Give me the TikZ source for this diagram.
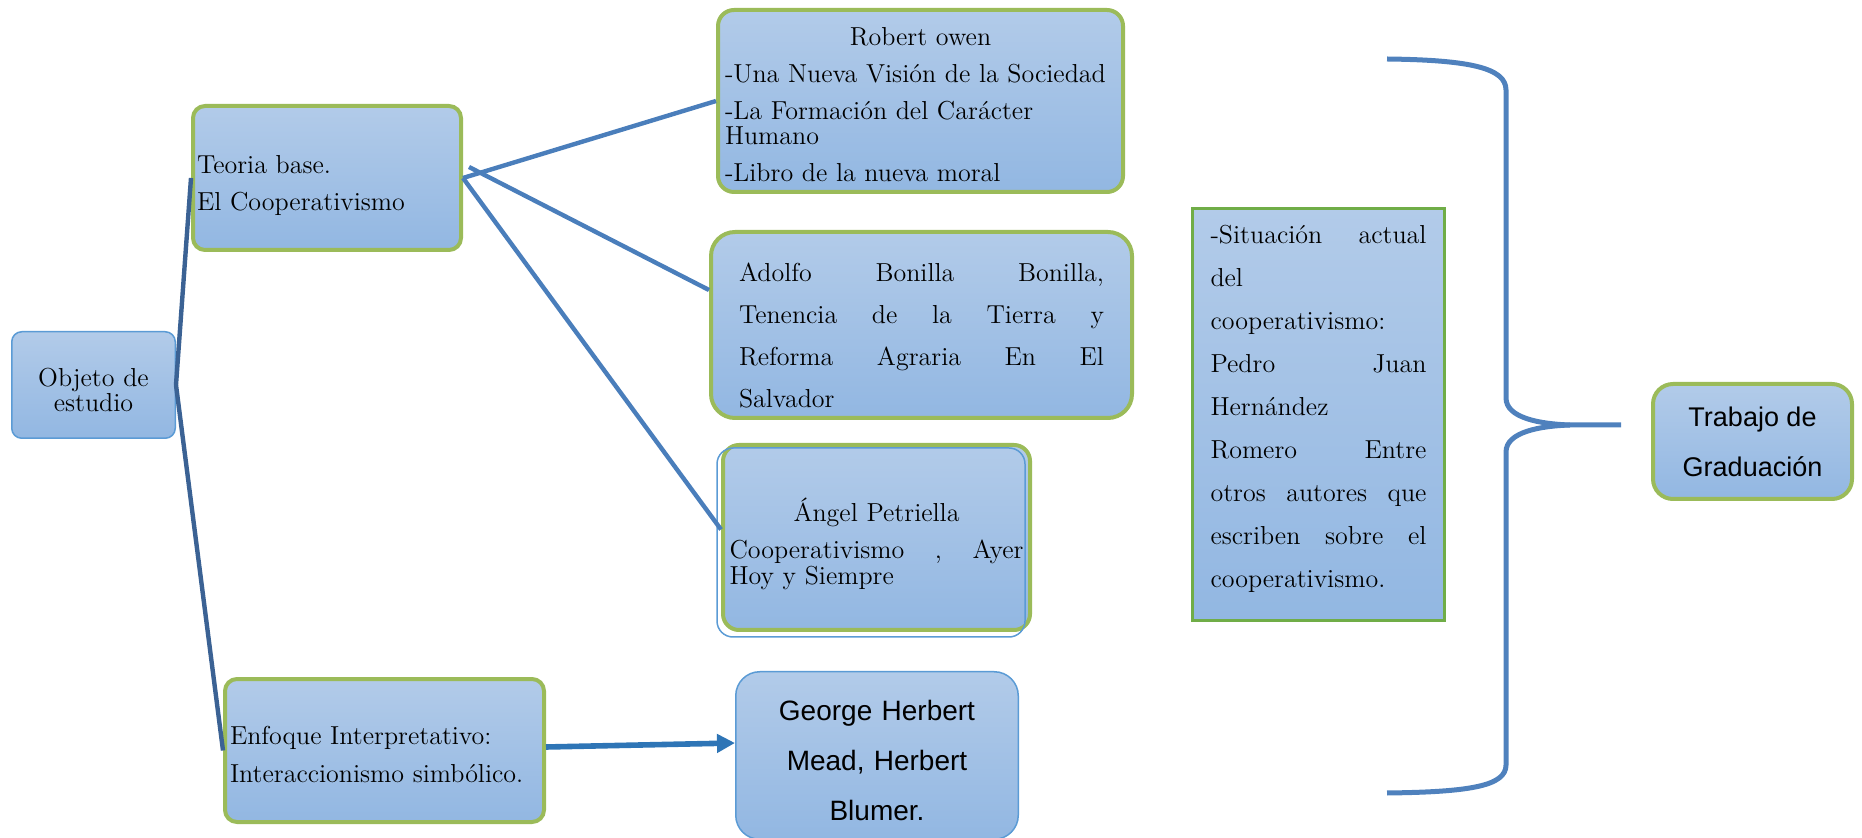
\documentclass[tikz,border=0pt]{standalone}
\usepackage{fontspec}
\setsansfont{Liberation Sans}
\usetikzlibrary{arrows.meta}
\definecolor{boxtop}{RGB}{178,203,233}
\definecolor{boxbot}{RGB}{146,183,226}
\definecolor{boxgreen}{RGB}{155,187,89}
\definecolor{sitgreen}{RGB}{112,173,71}
\definecolor{boxblue}{RGB}{91,155,213}
\definecolor{linedark}{RGB}{59,98,148}
\definecolor{linemid}{RGB}{74,126,187}
\definecolor{arrowblue}{RGB}{46,117,182}
\definecolor{bracecol}{RGB}{79,129,189}
\newcommand{\jline}[1]{\leavevmode\hbox to\linewidth{#1}}
\newcommand{\alto}[1]{\rule{0pt}{#1}}
\begin{document}
\begin{tikzpicture}[x=0.5pt,y=-0.5pt,
  caja/.style={top color=boxtop,bottom color=boxbot,draw=boxgreen,line width=2pt,rounded corners=6pt,inner ysep=0pt},
  cajaazul/.style={caja,draw=boxblue,line width=0.75pt},
  enlace/.style={linemid,line width=2.2pt}]
\useasboundingbox (0,0) rectangle (1862,838);
\node[cajaazul,rounded corners=5pt,minimum width=81.75pt,minimum height=53.25pt,text width=76pt,inner xsep=2pt,align=center,font=\fontsize{13}{12.5}\selectfont] (objeto) at (93.5,385) {\alto{14.6pt}Objeto de\\estudio};
\node[caja,minimum width=134pt,minimum height=72pt,text width=130pt,inner xsep=2pt,align=left,font=\fontsize{13}{18.5}\selectfont] (teoria) at (327,178) {\alto{16.2pt}Teoria base.\\El Cooperativismo};
\node[caja,rounded corners=8pt,minimum width=202.5pt,minimum height=91pt,text width=195.5pt,inner xsep=3.5pt,align=left,font=\fontsize{13}{12.5}\selectfont] (owen) at (920.5,101) {\alto{12.6pt}\makebox[\linewidth]{Robert owen}\\[6pt]\mbox{-Una Nueva Visión de la Sociedad}\\[6pt]-La Formación del Carácter\\Humano\\[6pt]-Libro de la nueva moral};
\node[caja,rounded corners=12pt,minimum width=210.5pt,minimum height=93pt,text width=182.5pt,inner xsep=14pt,align=left,font=\fontsize{13}{21}\selectfont] (bonilla) at (921.5,325) {\jline{\alto{19.9pt}Adolfo\hfill Bonilla\hfill Bonilla,}\\\jline{Tenencia\hfill de\hfill la\hfill Tierra\hfill y}\\\jline{Reforma\hfill Agraria\hfill En\hfill El}\\Salvador};
\node[caja,rounded corners=8pt,minimum width=153.5pt,minimum height=92.5pt,text width=147pt,inner xsep=3.25pt,align=left,font=\fontsize{13}{13}\selectfont] (petriella) at (876.5,537.5) {\alto{18pt}\makebox[\linewidth]{Ángel Petriella}\\[5.5pt]\jline{Cooperativismo\hfill ,\hfill Ayer}\\Hoy y Siempre};
\draw[boxblue,line width=0.75pt,rounded corners=8pt] ([shift={(-2pt,-2.5pt)}]petriella.south west) rectangle ([shift={(-3.5pt,-2.5pt)}]petriella.north east);
\node[caja,minimum width=159.5pt,minimum height=71.5pt,text width=154.5pt,inner xsep=2.5pt,align=left,font=\fontsize{13}{19}\selectfont] (enfoque) at (384.5,750.5) {\alto{13.2pt}Enfoque Interpretativo:\\Interaccionismo simbólico.};
\node[cajaazul,rounded corners=12pt,minimum width=141.25pt,minimum height=83.75pt,text width=130pt,inner xsep=5pt,align=center,font=\sffamily\fontsize{14}{25}\selectfont] (mead) at (877,755.5) {\alto{15pt}George Herbert\\Mead, Herbert\\Blumer.};
\node[top color=boxtop,bottom color=boxbot,draw=sitgreen,line width=1.5pt,minimum width=126pt,minimum height=206pt,text width=108pt,inner xsep=9pt,align=left,font=\fontsize{13}{21.5}\selectfont] (situacion) at (1318.5,414.5) {\jline{-Situación\hfill actual}\\del\\cooperativismo:\\\jline{Pedro\hfill Juan}\\Hernández\\\jline{Romero\hfill Entre}\\\jline{otros\hfill autores\hfill que}\\\jline{escriben\hfill sobre\hfill el}\\cooperativismo.\rule[-8.5pt]{0pt}{8.5pt}};
\node[caja,rounded corners=10pt,minimum width=99.5pt,minimum height=57.5pt,align=center,font=\sffamily\fontsize{13.5}{25}\selectfont] (trabajo) at (1752.5,441.5) {Trabajo de\\Graduación};
\draw[enlace,linedark] (objeto.east) -- (teoria.west);
\draw[enlace,linedark] (objeto.east) -- (enfoque.west);
\draw[enlace] (teoria.east) -- (owen.west);
\draw[enlace] ([shift={(3pt,5.5pt)}]teoria.east) -- ([yshift=17.5pt]bonilla.west);
\draw[enlace] (teoria.east) -- ([yshift=4pt]petriella.west);
\draw[arrowblue,line width=2.8pt,-{Triangle[length=9pt,width=9pt]}] ([yshift=1.75pt]enfoque.east) -- ([yshift=6.25pt]mead.west);
\draw[bracecol,line width=2.5pt] (1387,59) .. controls (1470,60) and (1506,68) .. (1506,90) -- (1506,398) .. controls (1506,418) and (1540,424) .. (1570,425) -- (1621,425); %arriba
\draw[bracecol,line width=2.5pt] (1570,425) .. controls (1540,426) and (1506,432) .. (1506,452) -- (1506,765) .. controls (1506,786) and (1470,792) .. (1387,793); %abajo
\end{tikzpicture}
\end{document}
